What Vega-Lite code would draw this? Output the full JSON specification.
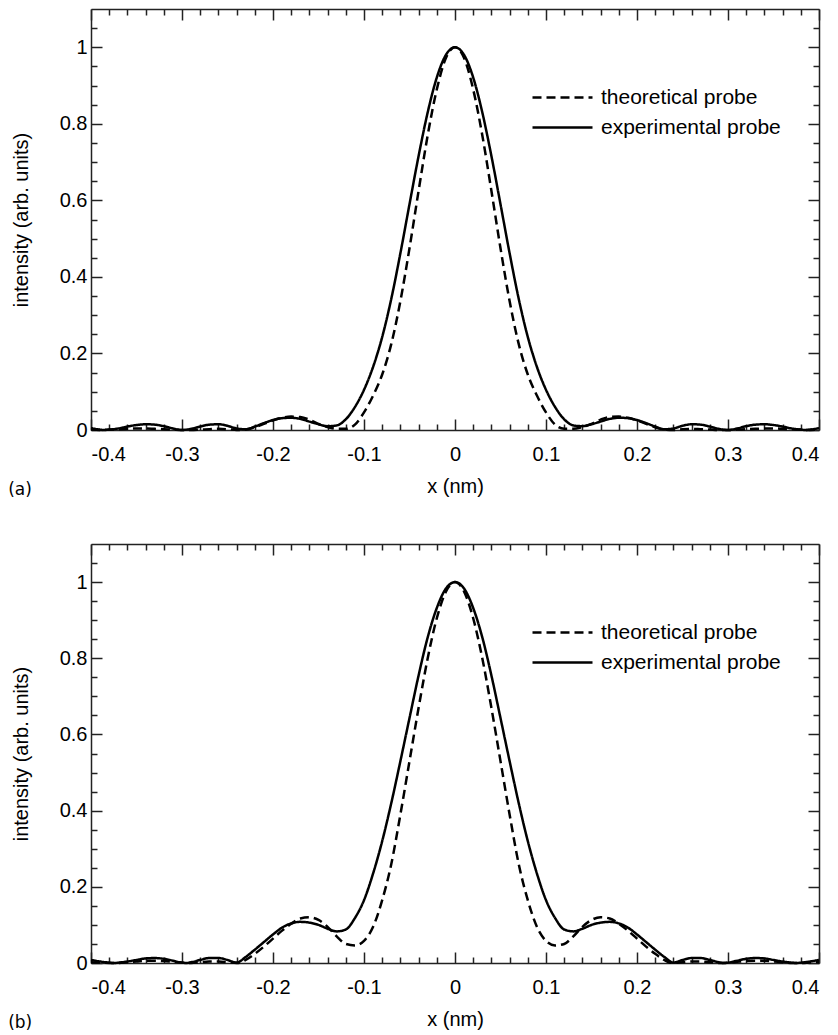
{
  "$schema": "https://vega.github.io/schema/vega-lite/v6.json",
  "padding": {"left": 8, "top": 8, "right": 0, "bottom": 5},
  "background": "white",
  "spacing": 45,
  "resolve": {"scale": {"strokeDash": "independent", "x": "independent", "y": "independent"}, "legend": {"strokeDash": "independent"}},
  "config": {
    "view": {"stroke": null},
    "font": "Liberation Sans",
    "axis": {"labelFont": "Liberation Sans", "labelFontSize": 20, "labelColor": "black", "titleFont": "Liberation Sans", "titleFontSize": 20, "titleFontWeight": "normal", "titleColor": "black", "domainColor": "#222", "domainWidth": 1.5, "tickColor": "#222", "tickWidth": 1.5, "grid": false},
    "legend": {"labelFont": "Liberation Sans", "labelFontSize": 21, "labelColor": "black", "labelLimit": 400, "orient": "none", "title": null, "symbolType": "stroke", "symbolSize": 3600, "symbolStrokeWidth": 2.5, "symbolStrokeColor": "black", "labelOffset": 7},
    "title": {"font": "DejaVu Sans", "fontSize": 17, "fontWeight": "normal", "color": "black"}
  },
  "datasets": {
    "a": [
      {"x":-0.4,"y":0.005,"p":"e"},{"x":-0.39,"y":0.001,"p":"e"},{"x":-0.385,"y":0.0,"p":"e"},{"x":-0.38,"y":0.001,"p":"e"},{"x":-0.37,"y":0.004,"p":"e"},{"x":-0.36,"y":0.009,"p":"e"},{"x":-0.35,"y":0.013,"p":"e"},{"x":-0.34,"y":0.015,"p":"e"},{"x":-0.33,"y":0.014,"p":"e"},{"x":-0.32,"y":0.01,"p":"e"},{"x":-0.31,"y":0.004,"p":"e"},{"x":-0.3,"y":0.0,"p":"e"},{"x":-0.29,"y":0.003,"p":"e"},{"x":-0.28,"y":0.009,"p":"e"},{"x":-0.27,"y":0.014,"p":"e"},{"x":-0.26,"y":0.015,"p":"e"},{"x":-0.25,"y":0.011,"p":"e"},{"x":-0.24,"y":0.004,"p":"e"},{"x":-0.23,"y":0.002,"p":"e"},{"x":-0.22,"y":0.009,"p":"e"},{"x":-0.21,"y":0.018,"p":"e"},{"x":-0.2,"y":0.026,"p":"e"},{"x":-0.19,"y":0.031,"p":"e"},{"x":-0.18,"y":0.032,"p":"e"},{"x":-0.17,"y":0.029,"p":"e"},{"x":-0.16,"y":0.022,"p":"e"},{"x":-0.15,"y":0.015,"p":"e"},{"x":-0.14,"y":0.01,"p":"e"},{"x":-0.13,"y":0.012,"p":"e"},{"x":-0.12,"y":0.028,"p":"e"},{"x":-0.11,"y":0.06,"p":"e"},{"x":-0.1,"y":0.105,"p":"e"},{"x":-0.09,"y":0.165,"p":"e"},{"x":-0.08,"y":0.243,"p":"e"},{"x":-0.07,"y":0.343,"p":"e"},{"x":-0.06,"y":0.462,"p":"e"},{"x":-0.05,"y":0.59,"p":"e"},{"x":-0.04,"y":0.716,"p":"e"},{"x":-0.03,"y":0.83,"p":"e"},{"x":-0.02,"y":0.921,"p":"e"},{"x":-0.01,"y":0.98,"p":"e"},{"x":0,"y":1.0,"p":"e"},
      {"x":0.01,"y":0.98,"p":"e"},{"x":0.02,"y":0.921,"p":"e"},{"x":0.03,"y":0.83,"p":"e"},{"x":0.04,"y":0.716,"p":"e"},{"x":0.05,"y":0.59,"p":"e"},{"x":0.06,"y":0.462,"p":"e"},{"x":0.07,"y":0.343,"p":"e"},{"x":0.08,"y":0.243,"p":"e"},{"x":0.09,"y":0.165,"p":"e"},{"x":0.1,"y":0.105,"p":"e"},{"x":0.11,"y":0.06,"p":"e"},{"x":0.12,"y":0.028,"p":"e"},{"x":0.13,"y":0.012,"p":"e"},{"x":0.14,"y":0.01,"p":"e"},{"x":0.15,"y":0.015,"p":"e"},{"x":0.16,"y":0.022,"p":"e"},{"x":0.17,"y":0.029,"p":"e"},{"x":0.18,"y":0.032,"p":"e"},{"x":0.19,"y":0.031,"p":"e"},{"x":0.2,"y":0.026,"p":"e"},{"x":0.21,"y":0.018,"p":"e"},{"x":0.22,"y":0.009,"p":"e"},{"x":0.23,"y":0.002,"p":"e"},{"x":0.24,"y":0.004,"p":"e"},{"x":0.25,"y":0.011,"p":"e"},{"x":0.26,"y":0.015,"p":"e"},{"x":0.27,"y":0.014,"p":"e"},{"x":0.28,"y":0.009,"p":"e"},{"x":0.29,"y":0.003,"p":"e"},{"x":0.3,"y":0.0,"p":"e"},{"x":0.31,"y":0.004,"p":"e"},{"x":0.32,"y":0.01,"p":"e"},{"x":0.33,"y":0.014,"p":"e"},{"x":0.34,"y":0.015,"p":"e"},{"x":0.35,"y":0.013,"p":"e"},{"x":0.36,"y":0.009,"p":"e"},{"x":0.37,"y":0.004,"p":"e"},{"x":0.38,"y":0.001,"p":"e"},{"x":0.385,"y":0.0,"p":"e"},{"x":0.39,"y":0.001,"p":"e"},{"x":0.4,"y":0.005,"p":"e"},
      {"x":-0.4,"y":0.001,"p":"t"},{"x":-0.39,"y":0.0,"p":"t"},{"x":-0.38,"y":0.001,"p":"t"},{"x":-0.37,"y":0.002,"p":"t"},{"x":-0.36,"y":0.003,"p":"t"},{"x":-0.35,"y":0.004,"p":"t"},{"x":-0.34,"y":0.004,"p":"t"},{"x":-0.33,"y":0.003,"p":"t"},{"x":-0.32,"y":0.002,"p":"t"},{"x":-0.31,"y":0.001,"p":"t"},{"x":-0.3,"y":0.0,"p":"t"},{"x":-0.29,"y":0.0,"p":"t"},{"x":-0.28,"y":0.001,"p":"t"},{"x":-0.27,"y":0.002,"p":"t"},{"x":-0.26,"y":0.003,"p":"t"},{"x":-0.25,"y":0.002,"p":"t"},{"x":-0.24,"y":0.0,"p":"t"},{"x":-0.23,"y":0.001,"p":"t"},{"x":-0.22,"y":0.007,"p":"t"},{"x":-0.21,"y":0.016,"p":"t"},{"x":-0.2,"y":0.025,"p":"t"},{"x":-0.19,"y":0.032,"p":"t"},{"x":-0.18,"y":0.035,"p":"t"},{"x":-0.17,"y":0.034,"p":"t"},{"x":-0.16,"y":0.027,"p":"t"},{"x":-0.15,"y":0.016,"p":"t"},{"x":-0.14,"y":0.008,"p":"t"},{"x":-0.13,"y":0.003,"p":"t"},{"x":-0.12,"y":0.003,"p":"t"},{"x":-0.11,"y":0.014,"p":"t"},{"x":-0.1,"y":0.046,"p":"t"},{"x":-0.09,"y":0.09,"p":"t"},{"x":-0.08,"y":0.145,"p":"t"},{"x":-0.07,"y":0.225,"p":"t"},{"x":-0.06,"y":0.337,"p":"t"},{"x":-0.05,"y":0.475,"p":"t"},{"x":-0.04,"y":0.625,"p":"t"},{"x":-0.03,"y":0.77,"p":"t"},{"x":-0.02,"y":0.89,"p":"t"},{"x":-0.01,"y":0.972,"p":"t"},{"x":0,"y":1.0,"p":"t"},
      {"x":0.01,"y":0.972,"p":"t"},{"x":0.02,"y":0.89,"p":"t"},{"x":0.03,"y":0.77,"p":"t"},{"x":0.04,"y":0.625,"p":"t"},{"x":0.05,"y":0.475,"p":"t"},{"x":0.06,"y":0.337,"p":"t"},{"x":0.07,"y":0.225,"p":"t"},{"x":0.08,"y":0.145,"p":"t"},{"x":0.09,"y":0.09,"p":"t"},{"x":0.1,"y":0.046,"p":"t"},{"x":0.11,"y":0.014,"p":"t"},{"x":0.12,"y":0.003,"p":"t"},{"x":0.13,"y":0.003,"p":"t"},{"x":0.14,"y":0.008,"p":"t"},{"x":0.15,"y":0.016,"p":"t"},{"x":0.16,"y":0.027,"p":"t"},{"x":0.17,"y":0.034,"p":"t"},{"x":0.18,"y":0.035,"p":"t"},{"x":0.19,"y":0.032,"p":"t"},{"x":0.2,"y":0.025,"p":"t"},{"x":0.21,"y":0.016,"p":"t"},{"x":0.22,"y":0.007,"p":"t"},{"x":0.23,"y":0.001,"p":"t"},{"x":0.24,"y":0.0,"p":"t"},{"x":0.25,"y":0.002,"p":"t"},{"x":0.26,"y":0.003,"p":"t"},{"x":0.27,"y":0.002,"p":"t"},{"x":0.28,"y":0.001,"p":"t"},{"x":0.29,"y":0.0,"p":"t"},{"x":0.3,"y":0.0,"p":"t"},{"x":0.31,"y":0.001,"p":"t"},{"x":0.32,"y":0.002,"p":"t"},{"x":0.33,"y":0.003,"p":"t"},{"x":0.34,"y":0.004,"p":"t"},{"x":0.35,"y":0.004,"p":"t"},{"x":0.36,"y":0.003,"p":"t"},{"x":0.37,"y":0.002,"p":"t"},{"x":0.38,"y":0.001,"p":"t"},{"x":0.39,"y":0.0,"p":"t"},{"x":0.4,"y":0.001,"p":"t"}
    ],
    "b": [
      {"x":-0.4,"y":0.008,"p":"e"},{"x":-0.39,"y":0.004,"p":"e"},{"x":-0.38,"y":0.001,"p":"e"},{"x":-0.375,"y":0.0,"p":"e"},{"x":-0.37,"y":0.001,"p":"e"},{"x":-0.36,"y":0.004,"p":"e"},{"x":-0.35,"y":0.008,"p":"e"},{"x":-0.34,"y":0.012,"p":"e"},{"x":-0.33,"y":0.013,"p":"e"},{"x":-0.32,"y":0.011,"p":"e"},{"x":-0.31,"y":0.006,"p":"e"},{"x":-0.3,"y":0.001,"p":"e"},{"x":-0.295,"y":0.0,"p":"e"},{"x":-0.29,"y":0.002,"p":"e"},{"x":-0.28,"y":0.008,"p":"e"},{"x":-0.27,"y":0.013,"p":"e"},{"x":-0.26,"y":0.013,"p":"e"},{"x":-0.25,"y":0.008,"p":"e"},{"x":-0.24,"y":0.001,"p":"e"},{"x":-0.23,"y":0.016,"p":"e"},{"x":-0.22,"y":0.035,"p":"e"},{"x":-0.21,"y":0.055,"p":"e"},{"x":-0.2,"y":0.075,"p":"e"},{"x":-0.19,"y":0.093,"p":"e"},{"x":-0.18,"y":0.104,"p":"e"},{"x":-0.17,"y":0.108,"p":"e"},{"x":-0.16,"y":0.106,"p":"e"},{"x":-0.15,"y":0.1,"p":"e"},{"x":-0.14,"y":0.09,"p":"e"},{"x":-0.13,"y":0.083,"p":"e"},{"x":-0.12,"y":0.088,"p":"e"},{"x":-0.11,"y":0.118,"p":"e"},{"x":-0.1,"y":0.165,"p":"e"},{"x":-0.09,"y":0.235,"p":"e"},{"x":-0.08,"y":0.32,"p":"e"},{"x":-0.07,"y":0.42,"p":"e"},{"x":-0.06,"y":0.53,"p":"e"},{"x":-0.05,"y":0.643,"p":"e"},{"x":-0.04,"y":0.755,"p":"e"},{"x":-0.03,"y":0.855,"p":"e"},{"x":-0.02,"y":0.932,"p":"e"},{"x":-0.01,"y":0.983,"p":"e"},{"x":0,"y":1.0,"p":"e"},
      {"x":0.01,"y":0.983,"p":"e"},{"x":0.02,"y":0.932,"p":"e"},{"x":0.03,"y":0.855,"p":"e"},{"x":0.04,"y":0.755,"p":"e"},{"x":0.05,"y":0.643,"p":"e"},{"x":0.06,"y":0.53,"p":"e"},{"x":0.07,"y":0.42,"p":"e"},{"x":0.08,"y":0.32,"p":"e"},{"x":0.09,"y":0.235,"p":"e"},{"x":0.1,"y":0.165,"p":"e"},{"x":0.11,"y":0.118,"p":"e"},{"x":0.12,"y":0.088,"p":"e"},{"x":0.13,"y":0.083,"p":"e"},{"x":0.14,"y":0.09,"p":"e"},{"x":0.15,"y":0.1,"p":"e"},{"x":0.16,"y":0.106,"p":"e"},{"x":0.17,"y":0.108,"p":"e"},{"x":0.18,"y":0.104,"p":"e"},{"x":0.19,"y":0.093,"p":"e"},{"x":0.2,"y":0.075,"p":"e"},{"x":0.21,"y":0.055,"p":"e"},{"x":0.22,"y":0.035,"p":"e"},{"x":0.23,"y":0.016,"p":"e"},{"x":0.24,"y":0.001,"p":"e"},{"x":0.25,"y":0.008,"p":"e"},{"x":0.26,"y":0.013,"p":"e"},{"x":0.27,"y":0.013,"p":"e"},{"x":0.28,"y":0.008,"p":"e"},{"x":0.29,"y":0.002,"p":"e"},{"x":0.295,"y":0.0,"p":"e"},{"x":0.3,"y":0.001,"p":"e"},{"x":0.31,"y":0.006,"p":"e"},{"x":0.32,"y":0.011,"p":"e"},{"x":0.33,"y":0.013,"p":"e"},{"x":0.34,"y":0.012,"p":"e"},{"x":0.35,"y":0.008,"p":"e"},{"x":0.36,"y":0.004,"p":"e"},{"x":0.37,"y":0.001,"p":"e"},{"x":0.375,"y":0.0,"p":"e"},{"x":0.38,"y":0.001,"p":"e"},{"x":0.39,"y":0.004,"p":"e"},{"x":0.4,"y":0.008,"p":"e"},
      {"x":-0.4,"y":0.002,"p":"t"},{"x":-0.39,"y":0.001,"p":"t"},{"x":-0.38,"y":0.0,"p":"t"},{"x":-0.37,"y":0.0,"p":"t"},{"x":-0.36,"y":0.002,"p":"t"},{"x":-0.35,"y":0.004,"p":"t"},{"x":-0.34,"y":0.006,"p":"t"},{"x":-0.33,"y":0.006,"p":"t"},{"x":-0.32,"y":0.005,"p":"t"},{"x":-0.31,"y":0.003,"p":"t"},{"x":-0.3,"y":0.001,"p":"t"},{"x":-0.29,"y":0.0,"p":"t"},{"x":-0.28,"y":0.002,"p":"t"},{"x":-0.27,"y":0.004,"p":"t"},{"x":-0.26,"y":0.004,"p":"t"},{"x":-0.25,"y":0.002,"p":"t"},{"x":-0.24,"y":0.0,"p":"t"},{"x":-0.235,"y":0.002,"p":"t"},{"x":-0.23,"y":0.008,"p":"t"},{"x":-0.22,"y":0.024,"p":"t"},{"x":-0.21,"y":0.043,"p":"t"},{"x":-0.2,"y":0.064,"p":"t"},{"x":-0.19,"y":0.085,"p":"t"},{"x":-0.18,"y":0.103,"p":"t"},{"x":-0.17,"y":0.117,"p":"t"},{"x":-0.16,"y":0.12,"p":"t"},{"x":-0.15,"y":0.113,"p":"t"},{"x":-0.14,"y":0.095,"p":"t"},{"x":-0.13,"y":0.07,"p":"t"},{"x":-0.12,"y":0.05,"p":"t"},{"x":-0.11,"y":0.046,"p":"t"},{"x":-0.1,"y":0.058,"p":"t"},{"x":-0.09,"y":0.095,"p":"t"},{"x":-0.08,"y":0.165,"p":"t"},{"x":-0.07,"y":0.26,"p":"t"},{"x":-0.06,"y":0.39,"p":"t"},{"x":-0.05,"y":0.53,"p":"t"},{"x":-0.04,"y":0.67,"p":"t"},{"x":-0.03,"y":0.8,"p":"t"},{"x":-0.02,"y":0.905,"p":"t"},{"x":-0.01,"y":0.975,"p":"t"},{"x":0,"y":1.0,"p":"t"},
      {"x":0.01,"y":0.975,"p":"t"},{"x":0.02,"y":0.905,"p":"t"},{"x":0.03,"y":0.8,"p":"t"},{"x":0.04,"y":0.67,"p":"t"},{"x":0.05,"y":0.53,"p":"t"},{"x":0.06,"y":0.39,"p":"t"},{"x":0.07,"y":0.26,"p":"t"},{"x":0.08,"y":0.165,"p":"t"},{"x":0.09,"y":0.095,"p":"t"},{"x":0.1,"y":0.058,"p":"t"},{"x":0.11,"y":0.046,"p":"t"},{"x":0.12,"y":0.05,"p":"t"},{"x":0.13,"y":0.07,"p":"t"},{"x":0.14,"y":0.095,"p":"t"},{"x":0.15,"y":0.113,"p":"t"},{"x":0.16,"y":0.12,"p":"t"},{"x":0.17,"y":0.117,"p":"t"},{"x":0.18,"y":0.103,"p":"t"},{"x":0.19,"y":0.085,"p":"t"},{"x":0.2,"y":0.064,"p":"t"},{"x":0.21,"y":0.043,"p":"t"},{"x":0.22,"y":0.024,"p":"t"},{"x":0.23,"y":0.008,"p":"t"},{"x":0.235,"y":0.002,"p":"t"},{"x":0.24,"y":0.0,"p":"t"},{"x":0.25,"y":0.002,"p":"t"},{"x":0.26,"y":0.004,"p":"t"},{"x":0.27,"y":0.004,"p":"t"},{"x":0.28,"y":0.002,"p":"t"},{"x":0.29,"y":0.0,"p":"t"},{"x":0.3,"y":0.001,"p":"t"},{"x":0.31,"y":0.003,"p":"t"},{"x":0.32,"y":0.005,"p":"t"},{"x":0.33,"y":0.006,"p":"t"},{"x":0.34,"y":0.006,"p":"t"},{"x":0.35,"y":0.004,"p":"t"},{"x":0.36,"y":0.002,"p":"t"},{"x":0.37,"y":0.0,"p":"t"},{"x":0.38,"y":0.0,"p":"t"},{"x":0.39,"y":0.001,"p":"t"},{"x":0.4,"y":0.002,"p":"t"}
    ]
  },
  "vconcat": [
    {
      "data": {"name": "a"},
      "width": 728,
      "height": 421,
      "title": {"text": "(a)", "orient": "bottom", "anchor": "start", "frame": "bounds", "offset": -14, "dx": -3},
      "resolve": {"axis": {"x": "independent", "y": "independent"}, "scale": {"strokeDash": "independent"}, "legend": {"strokeDash": "independent"}},
      "layer": [
        {
          "transform": [{"filter": "datum.p == 't'"}],
          "mark": {"type": "line", "color": "black", "strokeWidth": 2.5, "interpolate": "monotone"},
          "encoding": {
            "x": {"field": "x", "type": "quantitative", "scale": {"domain": [-0.4, 0.4], "nice": false},
              "axis": {"orient": "top", "title": null, "labels": false,
                "values": [-0.4,-0.38,-0.36,-0.34,-0.32,-0.3,-0.28,-0.26,-0.24,-0.22,-0.2,-0.18,-0.16,-0.14,-0.12,-0.1,-0.08,-0.06,-0.04,-0.02,0,0.02,0.04,0.06,0.08,0.1,0.12,0.14,0.16,0.18,0.2,0.22,0.24,0.26,0.28,0.3,0.32,0.34,0.36,0.38,0.4],
                "tickSize": {"condition": {"test": "abs(datum.value*10 - round(datum.value*10)) < 0.001", "value": -11}, "value": -6}}},
            "y": {"field": "y", "type": "quantitative", "scale": {"domain": [0, 1.1], "nice": false},
              "axis": {"orient": "right", "title": null, "labels": false,
                "values": [0,0.05,0.1,0.15,0.2,0.25,0.3,0.35,0.4,0.45,0.5,0.55,0.6,0.65,0.7,0.75,0.8,0.85,0.9,0.95,1,1.05],
                "tickSize": {"condition": {"test": "abs(datum.value*5 - round(datum.value*5)) < 0.001", "value": -11}, "value": -6}}},
            "strokeDash": {"field": "p", "type": "nominal", "scale": {"domain": ["t"], "range": [[9, 5]]},
              "legend": {"legendX": 440, "legendY": 57, "labelExpr": "'theoretical probe'"}}
          }
        },
        {
          "transform": [{"filter": "datum.p == 'e'"}],
          "mark": {"type": "line", "color": "black", "strokeWidth": 2.5, "interpolate": "monotone"},
          "encoding": {
            "x": {"field": "x", "type": "quantitative", "scale": {"domain": [-0.4, 0.4], "nice": false},
              "axis": {"orient": "bottom", "title": "x (nm)", "titlePadding": 12, "labelPadding": 25,
                "values": [-0.4,-0.38,-0.36,-0.34,-0.32,-0.3,-0.28,-0.26,-0.24,-0.22,-0.2,-0.18,-0.16,-0.14,-0.12,-0.1,-0.08,-0.06,-0.04,-0.02,0,0.02,0.04,0.06,0.08,0.1,0.12,0.14,0.16,0.18,0.2,0.22,0.24,0.26,0.28,0.3,0.32,0.34,0.36,0.38,0.4],
                "tickSize": {"condition": {"test": "abs(datum.value*10 - round(datum.value*10)) < 0.001", "value": -11}, "value": -6},
                "labelExpr": "abs(datum.value*10 - round(datum.value*10)) < 0.001 ? (datum.value < -0.001 ? '-' + format(-datum.value, '.1~f') : format(abs(datum.value), '.1~f')) : ''"}},
            "y": {"field": "y", "type": "quantitative", "scale": {"domain": [0, 1.1], "nice": false},
              "axis": {"orient": "left", "title": "intensity (arb. units)", "titlePadding": 28, "labelPadding": 15,
                "values": [0,0.05,0.1,0.15,0.2,0.25,0.3,0.35,0.4,0.45,0.5,0.55,0.6,0.65,0.7,0.75,0.8,0.85,0.9,0.95,1,1.05],
                "tickSize": {"condition": {"test": "abs(datum.value*5 - round(datum.value*5)) < 0.001", "value": -11}, "value": -6},
                "labelExpr": "abs(datum.value*5 - round(datum.value*5)) < 0.001 ? format(datum.value, '.1~f') : ''"}},
            "strokeDash": {"field": "p", "type": "nominal", "scale": {"domain": ["e"], "range": [[1, 0]]},
              "legend": {"legendX": 440, "legendY": 87, "labelExpr": "'experimental probe'"}}
          }
        }
      ]
    },
    {
      "data": {"name": "b"},
      "width": 728,
      "height": 419,
      "title": {"text": "(b)", "orient": "bottom", "anchor": "start", "frame": "bounds", "offset": -14, "dx": -3},
      "resolve": {"axis": {"x": "independent", "y": "independent"}, "scale": {"strokeDash": "independent"}, "legend": {"strokeDash": "independent"}},
      "layer": [
        {
          "transform": [{"filter": "datum.p == 't'"}],
          "mark": {"type": "line", "color": "black", "strokeWidth": 2.5, "interpolate": "monotone"},
          "encoding": {
            "x": {"field": "x", "type": "quantitative", "scale": {"domain": [-0.4, 0.4], "nice": false},
              "axis": {"orient": "top", "title": null, "labels": false,
                "values": [-0.4,-0.38,-0.36,-0.34,-0.32,-0.3,-0.28,-0.26,-0.24,-0.22,-0.2,-0.18,-0.16,-0.14,-0.12,-0.1,-0.08,-0.06,-0.04,-0.02,0,0.02,0.04,0.06,0.08,0.1,0.12,0.14,0.16,0.18,0.2,0.22,0.24,0.26,0.28,0.3,0.32,0.34,0.36,0.38,0.4],
                "tickSize": {"condition": {"test": "abs(datum.value*10 - round(datum.value*10)) < 0.001", "value": -11}, "value": -6}}},
            "y": {"field": "y", "type": "quantitative", "scale": {"domain": [0, 1.1], "nice": false},
              "axis": {"orient": "right", "title": null, "labels": false,
                "values": [0,0.05,0.1,0.15,0.2,0.25,0.3,0.35,0.4,0.45,0.5,0.55,0.6,0.65,0.7,0.75,0.8,0.85,0.9,0.95,1,1.05],
                "tickSize": {"condition": {"test": "abs(datum.value*5 - round(datum.value*5)) < 0.001", "value": -11}, "value": -6}}},
            "strokeDash": {"field": "p", "type": "nominal", "scale": {"domain": ["t"], "range": [[9, 5]]},
              "legend": {"legendX": 440, "legendY": 57, "labelExpr": "'theoretical probe'"}}
          }
        },
        {
          "transform": [{"filter": "datum.p == 'e'"}],
          "mark": {"type": "line", "color": "black", "strokeWidth": 2.5, "interpolate": "monotone"},
          "encoding": {
            "x": {"field": "x", "type": "quantitative", "scale": {"domain": [-0.4, 0.4], "nice": false},
              "axis": {"orient": "bottom", "title": "x (nm)", "titlePadding": 12, "labelPadding": 25,
                "values": [-0.4,-0.38,-0.36,-0.34,-0.32,-0.3,-0.28,-0.26,-0.24,-0.22,-0.2,-0.18,-0.16,-0.14,-0.12,-0.1,-0.08,-0.06,-0.04,-0.02,0,0.02,0.04,0.06,0.08,0.1,0.12,0.14,0.16,0.18,0.2,0.22,0.24,0.26,0.28,0.3,0.32,0.34,0.36,0.38,0.4],
                "tickSize": {"condition": {"test": "abs(datum.value*10 - round(datum.value*10)) < 0.001", "value": -11}, "value": -6},
                "labelExpr": "abs(datum.value*10 - round(datum.value*10)) < 0.001 ? (datum.value < -0.001 ? '-' + format(-datum.value, '.1~f') : format(abs(datum.value), '.1~f')) : ''"}},
            "y": {"field": "y", "type": "quantitative", "scale": {"domain": [0, 1.1], "nice": false},
              "axis": {"orient": "left", "title": "intensity (arb. units)", "titlePadding": 28, "labelPadding": 15,
                "values": [0,0.05,0.1,0.15,0.2,0.25,0.3,0.35,0.4,0.45,0.5,0.55,0.6,0.65,0.7,0.75,0.8,0.85,0.9,0.95,1,1.05],
                "tickSize": {"condition": {"test": "abs(datum.value*5 - round(datum.value*5)) < 0.001", "value": -11}, "value": -6},
                "labelExpr": "abs(datum.value*5 - round(datum.value*5)) < 0.001 ? format(datum.value, '.1~f') : ''"}},
            "strokeDash": {"field": "p", "type": "nominal", "scale": {"domain": ["e"], "range": [[1, 0]]},
              "legend": {"legendX": 440, "legendY": 87, "labelExpr": "'experimental probe'"}}
          }
        }
      ]
    }
  ]
}
